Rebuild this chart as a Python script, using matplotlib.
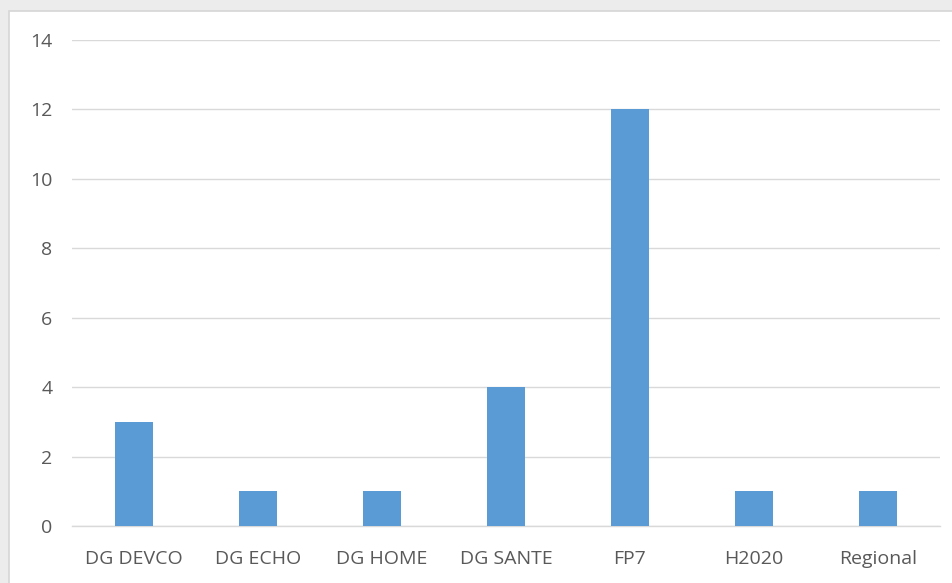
import matplotlib.pyplot as plt
from matplotlib.patches import Rectangle

# Données
categories = ["DG DEVCO", "DG ECHO", "DG HOME", "DG SANTE", "FP7", "H2020", "Regional"]
values = [3, 1, 1, 4, 12, 1, 1]
y_ticks = [0, 2, 4, 6, 8, 10, 12, 14]

W, H = 953, 583
fig = plt.figure(figsize=(W / 100, H / 100), dpi=100)
fig.patch.set_facecolor("#ececec")

# panneau blanc du graphique (dessiné sous les axes)
fig.patches.append(Rectangle((9 / W, -0.1), 1.1, (H - 11) / H + 0.1,
                             transform=fig.transFigure, facecolor="white",
                             edgecolor="#d6d6d6", linewidth=1.2, zorder=-10))

ax = fig.add_axes([72 / W, (H - 526) / H, 868 / W, 486 / H])
ax.set_facecolor("none")

x = list(range(len(categories)))
ax.bar(x, values, width=0.31, color="#5b9bd5", zorder=3)

ax.set_xlim(-0.5, len(categories) - 0.5)
ax.set_ylim(0, 14)
ax.set_yticks(y_ticks)
ax.set_xticks(x)
ax.set_xticklabels(categories)

ax.grid(axis="y", color="#d9d9d9", linewidth=1, zorder=0)
for s in ["top", "right", "left"]:
    ax.spines[s].set_visible(False)
ax.spines["bottom"].set_color("#d9d9d9")
ax.spines["bottom"].set_linewidth(1)
ax.tick_params(axis="both", length=0, labelcolor="#595959", labelsize=14)
ax.tick_params(axis="y", pad=14)
ax.tick_params(axis="x", pad=17)
for lab in ax.get_xticklabels() + ax.get_yticklabels():
    lab.set_family(["Open Sans", "DejaVu Sans"])

fig.savefig("out.png", dpi=100, facecolor=fig.get_facecolor())
